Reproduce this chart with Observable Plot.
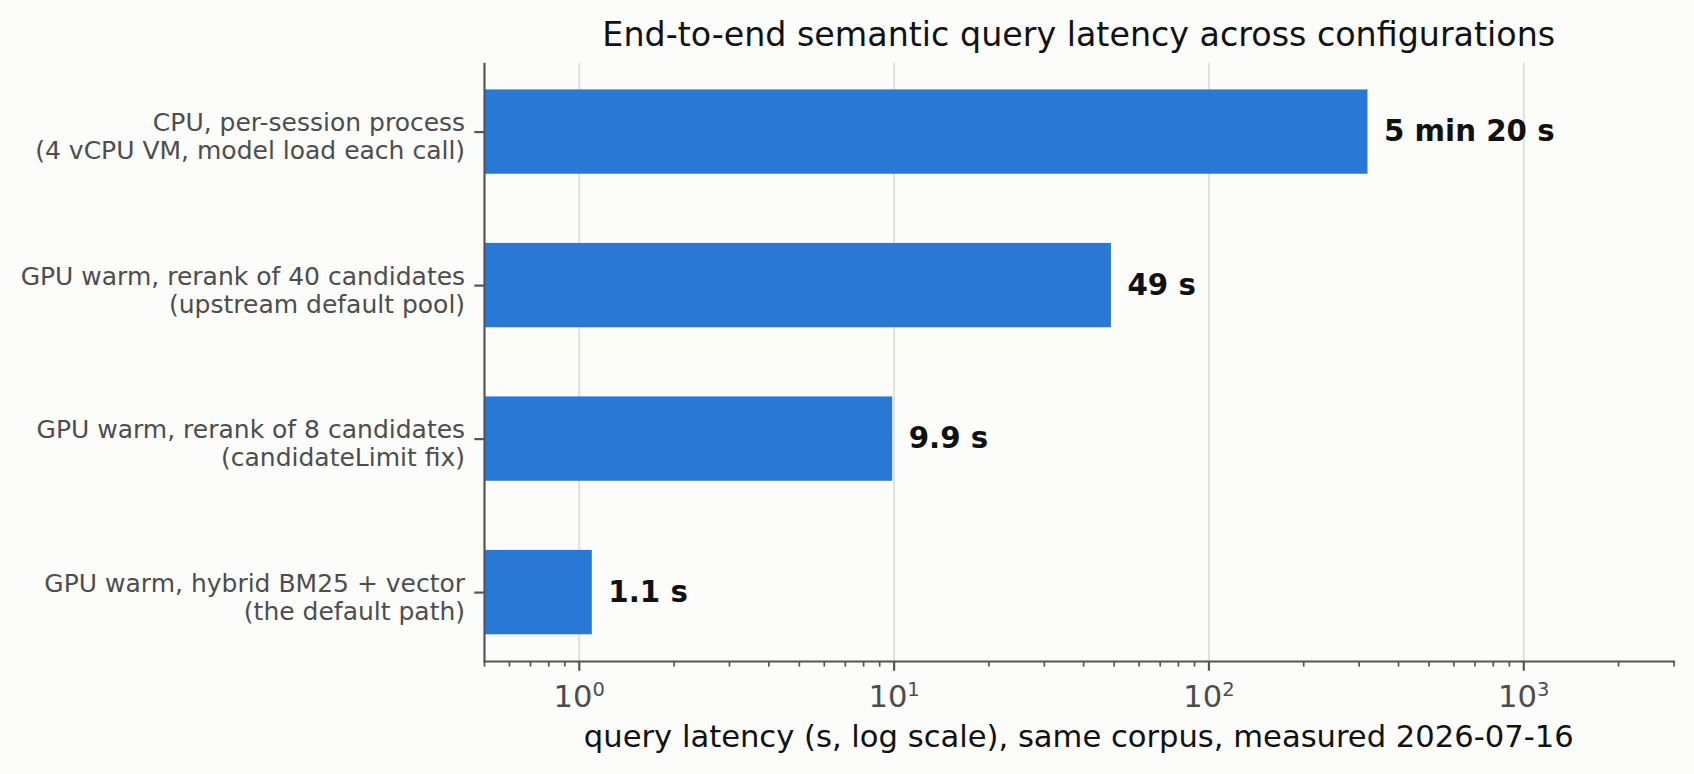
<!DOCTYPE html>
<html><head><meta charset="utf-8">
<script src="https://cdn.jsdelivr.net/npm/d3@7"></script>
<script src="https://cdn.jsdelivr.net/npm/@observablehq/plot@0.6"></script>
<style>
html,body{margin:0;padding:0;background:#fcfcfb;}
#wrap{position:relative;width:1694px;height:774px;font-family:"DejaVu Sans",sans-serif;overflow:hidden;}
#chart{position:absolute;left:0;top:0;}
.lbl{position:absolute;left:484px;width:1189.5px;text-align:center;color:#111;white-space:nowrap;line-height:1;}
#title{top:17.5px;font-size:33.3px;}
#xlabel{top:722px;font-size:30.6px;}
</style></head><body>
<div id="wrap">
  <div id="chart"></div>
  <div id="title" class="lbl">End-to-end semantic query latency across configurations</div>
  <div id="xlabel" class="lbl">query latency (s, log scale), same corpus, measured 2026-07-16</div>
</div>
<script>
const categories = [
  "CPU, per-session process\n(4 vCPU VM, model load each call)",
  "GPU warm, rerank of 40 candidates\n(upstream default pool)",
  "GPU warm, rerank of 8 candidates\n(candidateLimit fix)",
  "GPU warm, hybrid BM25 + vector\n(the default path)"
];
const latencies = [320, 49, 9.9, 1.1];
const valueLabels = ["5 min 20 s", "49 s", "9.9 s", "1.1 s"];
const majorTicks = [1, 10, 100, 1000];
const majorTickExponents = ["0", "1", "2", "3"];
const minorTicks = [0.5, 0.6, 0.7, 0.8, 0.9, 2, 3, 4, 5, 6, 7, 8, 9,
  20, 30, 40, 50, 60, 70, 80, 90, 200, 300, 400, 500, 600, 700, 800, 900, 2000, 3000];
const xDomain = [0.5, 3000];

const rows = categories.map((c, i) => ({cat: c, v: latencies[i], label: valueLabels[i]}));

const axisColor = "#555";
const tickText = "#4d4d4d";

const chart = Plot.plot({
  width: 1694,
  height: 774,
  marginLeft: 484,
  marginRight: 20.5,
  marginTop: 62.7,
  marginBottom: 113,
  style: {background: "transparent", fontFamily: "DejaVu Sans", overflow: "visible"},
  x: {type: "log", domain: xDomain},
  y: {type: "band", domain: categories, paddingInner: 0.4505, paddingOuter: 0.174, round: false},
  marks: [
    Plot.gridX(majorTicks, {stroke: "#e0e0e0", strokeOpacity: 1, strokeWidth: 2}),
    Plot.barX(rows, {x1: xDomain[0], x2: "v", y: "cat", fill: "#2a78d6"}),
    Plot.text(rows, {x: "v", y: "cat", text: "label", dx: 16, textAnchor: "start",
      fontWeight: "bold", fontSize: 29.3, fill: "#111"}),
    Plot.ruleX([xDomain[0]], {stroke: axisColor, strokeWidth: 2.2}),
    Plot.frame({anchor: "bottom", stroke: axisColor, strokeWidth: 2.2}),
    Plot.axisX(minorTicks, {tickSize: 5.6, strokeWidth: 1.7, stroke: axisColor, text: null, label: null}),
    Plot.axisX(majorTicks, {tickSize: 9.7, strokeWidth: 2.2, stroke: axisColor, text: null, label: null}),
    Plot.axisX(majorTicks, {tickSize: 0, tickPadding: 23.7, fontSize: 30.6, fill: tickText,
      tickFormat: (d) => "10^" + majorTickExponents[majorTicks.indexOf(d)], label: null,
      ariaLabel: "x-major-labels"}),
    Plot.axisY({tickSize: 9.7, strokeWidth: 2.2, stroke: axisColor, text: null, label: null}),
    Plot.axisY({tickSize: 0, tickPadding: 19.4, fontSize: 25, lineHeight: 1.13, fill: tickText,
      dy: 4, label: null})
  ]
});
// render exponents as raised, smaller text (like 10 with superscript)
d3.select(chart).selectAll("text").each(function() {
  const t = this.textContent;
  const m = /^10\^(\d+)$/.exec(t);
  if (!m) return;
  const sel = d3.select(this);
  sel.text("10");
  sel.append("tspan").attr("font-size", "19.5px").attr("dy", "-11px").text(m[1]);
});
document.getElementById("chart").appendChild(chart);
</script>
</body></html>
